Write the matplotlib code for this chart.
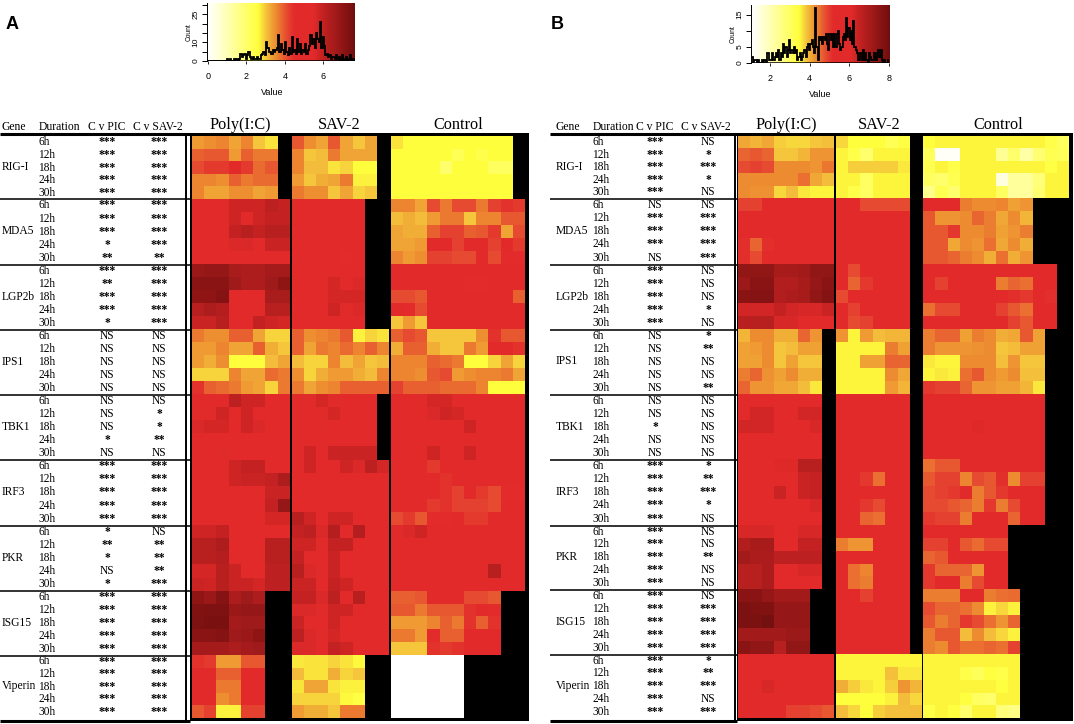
import numpy as np
import matplotlib
matplotlib.use("Agg")
import matplotlib.pyplot as plt
from matplotlib.colors import LinearSegmentedColormap, Normalize
from matplotlib.patches import Rectangle

genes = ["RIG-I", "MDA5", "LGP2b", "IPS1", "TBK1", "IRF3", "PKR", "ISG15", "Viperin"]
durations = ["6h", "12h", "18h", "24h", "30h"]

A_pic = ["***","***","***","***","***", "***","***","***","*","**", "***","**","***","***","*",
         "NS","NS","NS","NS","NS", "NS","NS","NS","*","NS", "***","***","***","***","***",
         "*","**","*","NS","*", "***","***","***","***","***", "***","***","***","***","***"]
A_sav = ["***","***","***","***","***", "***","***","***","***","**", "***","***","***","***","***",
         "NS","NS","NS","NS","NS", "NS","*","*","**","NS", "***","***","***","***","***",
         "NS","**","**","**","***", "***","***","***","***","***", "***","***","***","***","***"]
B_pic = ["***","***","***","***","***", "NS","***","***","***","NS", "***","***","***","***","***",
         "NS","NS","NS","NS","NS", "NS","NS","*","NS","NS", "***","***","***","***","***",
         "***","***","***","***","***", "***","***","***","***","***", "***","***","***","***","***"]
B_sav = ["NS","*","***","*","NS", "NS","***","***","***","***", "NS","NS","NS","*","NS",
         "*","**","NS","NS","**", "NS","NS","NS","NS","NS", "*","**","***","*","NS",
         "NS","NS","**","NS","NS", "NS","***","***","***","***", "*","**","***","NS","***"]

A_poly = [
 [3.4,3.5,3.6,3.3,3.6,3.0,2.8],[3.9,4.0,4.0,3.4,3.9,3.7,3.7],[4.1,4.3,4.3,4.6,4.3,3.8,4.0],[3.6,3.6,3.5,3.9,3.7,3.8,3.8],[3.6,3.3,3.3,3.5,3.5,3.3,3.4],
 [5,5,5,5.8,5.8,5.8,6.1,6.0],[5,5.3,5,5.8,5.4,5.8,6,6],[5,5,5,6,6.2,6,6.2,6.2],[5,5,5,5.6,5.6,5.2,5.9,5.9],[5,5,5,5,5,5,5,5],
 [6.8,6.9,6.9,6.5,6.4,6.4,6.6,6.6],[7.1,7.1,7.1,6.7,6.4,6.4,6.7,7.0],[7.0,7.0,7.2,5,5,5,6.5,6.5],[6.2,6.4,6.3,5,5,5,6.2,6.2],[5.9,5.9,6.2,5,5,6.0,5.8,5.7],
 [3.7,3.5,3.5,3.9,3.9,3.3,2.9,2.9],[3.4,3.4,3.6,3.3,3.3,3.9,3.2,3.0],[3.4,3.2,3.5,2.6,2.6,2.6,3.1,3.3],[2.9,2.9,2.9,3.6,3.3,3.3,3.8,3.7],[4.4,3.9,3.8,3.7,3.4,3.3,2.9,3.7],
 [5,5.2,5.4,6.1,5.8,5.8,5,5],[5.5,5.5,5.8,5.2,5.8,5.4,5,5],[5.6,5.7,5.7,5,5.8,5.6,5,5],[5,5,5.2,5,5,5.4,5,5],[5.4,5.4,5.5,5,5,5,5.2,5.2],
 [5,5,5,5.8,6,6,5.3,5.3],[5,5,5,5.8,5.9,5.9,6,6.4],[5,5.3,5.3,5,5,5,5.9,5.9],[5,5,5,5.5,5,5,6,6.9],[5,5,5,5.3,5.3,5.3,5.7,5.7],
 [5.8,5.8,6,5,5,5,5,5],[6.2,6.2,6.4,5,5,5,6.2,6.2],[6.2,6.2,6.3,5,5,5,6.2,6.2],[5.7,5.7,6.2,5.9,5,5,6.1,6.1],[5.9,5.8,6.2,5.9,5.9,5.7,6.1,6.1],
 [7.0,6.8,7.2,6.4,6.7,6.4],[7.3,7.4,7.4,6.8,6.9,6.9],[7.4,7.5,7.5,6.6,6.7,6.7],[7.1,7.1,7.2,6.7,6.8,7.0],[6.6,6.6,6.6,6.4,6.6,6.7],
 [4.4,4.3,3.4,3.4,4.0,4.0],[5,5,3.9,3.9,5,5],[5,5,3.7,3.7,5,5],[5,5,3.5,3.7,5,5],[4.0,4.2,2.7,2.7,4.2,4.2],
]
A_virus = [
 [4.0,3.5,3.3,4.0,3.3,3.0,3.3],[3.6,3.0,3.1,3.7,3.3,3.3,3.3],[3.6,3.1,3.1,2.8,2.9,2.6,2.6],[3.4,3.0,3.2,3.3,3.7,2.7,2.7],[3.7,3.5,3.5,3.0,3.3,2.9,3.0],
 [5,5,5,5,5,5],[5,5,5,5,5,5],[5,4.7,5,5,5,5],[5,4.7,5,5,5,5],[5,5,5,5,4.5,5],
 [5,5,5,5,5,5],[5,5,5,5.7,5,5.6],[5,5,5,5.7,5.7,5.7],[5,5,5,5.8,5.5,5.6],[5,5,5,5,5,5],
 [3.9,3.5,3.6,3.7,4.0,2.7,2.9,2.8],[3.9,3.3,3.7,3.6,3.8,3.6,3.9,3.6],[3.1,2.9,2.9,3.6,3.1,3.3,3.0,3.1],[3.5,2.9,3.2,3.4,3.4,3.2,3.1,3.6],[3.7,3.3,3.5,3.6,3.9,3.9,3.9,3.9],
 [5.5,5.5,5.7,5.5,5,5,5],[5.5,5.3,5.5,5.7,5,5,5],[5,5,5.5,5,5,5,5],[5,5,5,5,5,5,5],[5.3,5.8,5,5.9,5.9,5.9,5.9],
 [5.3,5.8,5.4,5,5.8,5.6,6.1,5.7],[5,5,5,5,5,5,5,5],[5,5,5,5,5,5,5,5],[5.4,5,5,5,5.2,5,5,5],[6.2,5.8,5.2,5.8,5.8,5,5,5],
 [6,6.1,5.6,6.3,5.2,6.3,5.2,5],[5.8,5.8,5.5,6.0,6.0,5,5,5],[6,5.5,5.2,5.9,5,5,5,5],[6.2,5.6,5.5,5.9,5.3,5,5,5],[5.9,5.9,5.2,6.0,5.8,5,5,5],
 [6,6,5.6,6.1,5.2,6.2,5.2,5],[5.6,5.6,5.5,5.8,5.8,5,5,5],[5.9,5.5,5.2,5.8,5,5,5,5],[6.1,5.6,5.5,5.7,5.4,5.1,5,5],[5.6,5.6,5.2,6,5.8,5,5,5],
 [2.75,2.8,2.8,2.9,2.8,2.65],[3.1,2.8,2.8,3.2,2.9,3.0],[2.8,3.3,3.3,2.8,2.7,2.7],[2.9,2.9,2.9,2.9,2.65,2.5],[3.4,3.2,3.2,3.0,3.7,3.7],
]
A_ctrl = [
 [2.8,2.6,2.6,2.6,2.6,2.6,2.6,2.6,2.6,2.6],[2.6,2.6,2.6,2.6,2.6,2.3,2.6,2.4,2.6,2.6],[2.6,2.6,2.6,2.6,2.0,2.6,2.6,2.6,2.15,2.15],[2.6,2.6,2.6,2.6,2.6,2.6,2.6,2.6,2.6,2.6],[2.6,2.6,2.6,2.6,2.6,2.6,2.6,2.6,2.6,2.6],
 [3.6,3.6,3.3,4.1,3.7,4.1,4.1,3.7,4.2,4.4,4.3],[3.1,3.2,3.1,3.4,3.7,3.7,3.0,3.6,3.6,4.0,4.0],[3.3,3.2,3.2,3.9,4.2,4.2,3.9,4.0,4.3,3.3,4.1],[3.3,3.3,3.4,4.6,4.6,4.2,4.6,4.6,4.2,4.6,4.3],[3.6,3.4,3.5,4.2,4.2,4.1,4.1,4.6,4.1,4.5,4.5],
 [5,5,5,5,5,5,4.8,4.7,4.8,5,5],[5,5,5,5,5,5,4.5,4.5,4.6,5,5],[4.1,4.1,4.0,5,5,5,5,5,5,5,3.9],[4.8,4.5,4.1,5,4.7,5,5,5,5,5,5],[3.0,3.4,3.0,5,5,5,5,5,5,5,5],
 [3.9,4.1,4.0,3.0,3.0,3.0,3.0,3.5,4.4,4.0,4.0],[3.2,3.9,3.9,3.2,3.0,3.0,3.7,3.4,4.7,4.7,4.4],[3.6,3.6,3.6,3.9,3.8,3.7,2.6,2.6,2.9,3.3,2.9],[3.6,3.6,3.5,4.0,4.1,3.4,3.5,3.6,3.6,3.7,3.3],[4.2,3.9,3.9,3.9,3.8,3.8,3.8,3.6,2.6,2.6,2.6],
 [5.3,5.3,5.5,5.7,5.7,5.4,5,5,5,5,5],[5,5,5,5.6,5.8,5.7,5.5,5,5.3,5,5],[5,5,5,5.4,5.4,5.3,5.8,5.3,5.3,5,5],[5,5,5,5,5,5,5,5,5,5,5],[5,5,5,5.8,5.4,5.4,5.8,5.4,5.4,5.2,5.3],
 [5,5,5,4.3,5,4.7,5,5,5,5,5],[5,5,5,4.6,4.4,4.6,5,5,5,5,5],[5,4.6,5,4.6,4.4,4.2,4.8,4.3,4.1,4.5,4.5],[5,5,5,4.3,4.4,4.2,4.2,4.2,4.1,5,5],[4.1,4.3,4.0,4.5,4.5,5,4.3,4.3,4.7,5,5],
 [5.5,5.6,5.8,5,5,5.5,5,5,5,5,5],[5,5,5,5,5,5,5,5,5,5,5],[5,5,5,5,5,5,5,5,5,5,5],[5,5,5,5,5,5,5,5,6.2,5,5],[5,5,5,5,5,5.4,5,5,5,5,5],
 [3.9,3.9,4.0,5,4.7,4.7,4.1,4.1,4.0],[4.0,4.0,3.7,4.0,4.0,4.0,4.4,5,4.5],[3.4,3.4,3.4,3.6,3.9,3.7,4.4,3.9,4.4],[3.7,3.7,3.4,4.5,3.9,3.9,5,5,5],[3.0,3.0,3.0,4.4,4.3,4.4,5,5,5],
 [0,0,0,0,0,0],[0,0,0,0,0,0],[0,0,0,0,0,0],[0,0,0,0,0,0],[0,0,0,0,0,0],
]
B_poly = [
 [4.05,3.95,4.05,3.75,3.7,3.7,3.8,3.85],[4.6,4.7,4.6,3.8,3.8,3.95,4.2,4.2],[4.8,4.9,4.8,4.3,4.3,4.3,4.2,4.45],[4.3,4.3,4.3,4.3,4.3,4.5,4.05,3.9],[4.3,4.25,4.25,3.7,3.9,3.6,3.5,3.5],
 [4.9,4.9,5.6,5.6,5.6,5.6,5.6,5.6],[5.6,5.6,5.6,5.6,5.6,5.6,5.6,5.6],[5.6,5.6,5.6,5.6,5.6,5.6,5.6,5.6],[5.1,4.6,5.1,5.6,5.6,5.6,5.6,5.6],[5.1,4.8,5.6,5.6,5.6,5.6,5.6,5.6],
 [7.4,7.4,7.4,7.0,7.0,7.1,7.4,7.4],[7.2,7.5,7.5,6.8,6.8,7.0,7.3,7.5],[7.5,7.6,7.6,6.8,6.9,7.0,7.4,7.6],[6.3,6.3,6.3,6.5,6.3,6.2,6.2,6.4],[6.7,6.7,6.7,6.2,6.2,5.8,5.8,5.9],
 [3.95,4.3,4.3,4.0,4.0,4.6,4.2],[4.1,4.15,4.3,3.8,3.9,4.1,4.1],[4.1,4.1,4.3,3.8,4.1,3.8,3.8],[4.4,4.6,4.25,4.1,4.3,4.0,4.0],[4.6,4.2,4.2,4.05,4.05,3.9,3.6],
 [5.9,5.9,5.9,5.9,5.9,5.9,5.9],[5.7,6.3,6.3,5.6,5.6,6.3,6.3],[6.3,6.3,6.3,5.6,5.6,5.6,6.2],[5.6,5.6,5.6,5.6,5.6,5.6,5.6],[5.6,5.6,5.6,5.6,5.6,5.6,5.6],
 [5.6,5.6,5.6,6.1,6.1,6.7,6.7],[5.6,5.6,5.6,5.9,5.9,6.4,6.5],[5.6,5.6,5.6,6.4,5.9,6.4,6.5],[5.6,5.6,5.6,5.9,5.8,5.7,6.2],[5.6,5.6,5.6,5.6,5.6,5.6,5.6],
 [6.2,6.2,6.2,5.6,5.6,6.2,6.2],[6.8,7.0,7.0,5.6,5.6,6.5,6.5],[7.1,6.9,6.9,6.6,6.6,6.6,6.6],[6.7,6.7,6.9,5.6,5.6,6.2,6.2],[6.7,6.7,6.9,5.6,5.6,5.6,5.6],
 [7.5,7.5,7.3,7.1,7.1,7.1],[7.8,7.7,7.7,7.3,7.3,7.3],[7.8,7.8,7.9,7.3,7.3,7.3],[7.1,7.1,7.1,7.1,7.2,7.2],[7.5,7.4,7.4,6.7,7.4,7.4],
 [5.6,5.6,5.6,5.4,5.6,5.6,5.6,5.6],[5.6,5.6,5.6,5.6,5.6,5.6,5.6,5.6],[5.6,5.6,6.2,5.6,5.6,5.6,5.6,5.6],[5.6,5.2,5.6,5.6,5.6,5.6,5.6,5.6],[5.6,5.6,5.6,5.6,4.9,4.9,4.8,4.7],
]
B_virus = [
 [3.7,3.45,3.45,3.45,3.15,3.35],[3.5,3.3,2.9,3.5,3.5,3.5],[3.5,3.75,3.75,3.75,3.75,3.6],[3.5,3.5,3.0,3.5,3.5,3.5],[3.5,3.3,3.0,3.5,3.5,3.5],
 [5.6,5.6,4.8,4.8,4.8,4.8],[5.6,5.6,5.6,5.6,5.6,5.6],[5.6,5.6,5.6,5.6,5.6,5.6],[5.6,5.6,5.6,5.3,5.6,5.6],[5.6,5.6,5.6,5.6,5.6,5.6],
 [5.6,4.8,5.6,5.6,5.6,5.6],[5.6,4.6,5.0,5.6,5.6,5.6],[4.8,5.6,5.6,5.6,5.6,5.6],[5.6,4.9,5.6,5.6,5.6,5.6],[5.6,4.8,4.9,5.6,5.6,5.6],
 [4.2,3.5,4.15,3.9,3.95,3.95],[3.5,3.5,3.5,3.5,4.4,4.1],[3.5,3.5,4.1,4.1,4.6,4.6],[3.5,3.5,3.5,3.5,4.3,4.05],[3.5,3.5,3.5,3.5,4.15,3.95],
 [5.6,5.6,5.6,5.6,5.6,5.6],[5.6,5.6,5.6,5.6,5.6,5.6],[5.6,5.6,5.6,5.6,5.6,5.6],[5.6,5.6,5.6,5.6,5.6,5.6],[5.6,5.6,5.6,5.6,5.6,5.6],
 [5.6,5.6,5.6,5.6,5.6,5.6],[5.6,5.6,5.0,4.5,5.6,5.6],[5.6,5.7,5.6,5.6,5.6,5.6],[5.6,5.6,5.0,4.8,5.6,5.6],[5.6,5.6,4.6,4.5,5.6,5.6],
 [5.6,5.6,5.6,5.5,5.4,5.6],[4.4,4.2,4.2,5.6,5.6,5.6],[5.6,5.6,5.6,5.6,5.6,5.6],[5.6,4.5,4.35,5.6,5.6,5.6],[5.6,4.5,4.4,5.6,5.6,5.6],
 [5.6,5.5,4.9,5.6,5.6,5.6],[5.6,5.6,5.6,5.6,5.6,5.6],[5.6,5.6,5.6,5.6,5.6,5.6],[5.6,5.6,5.6,5.6,5.6,5.6],[5.6,5.6,5.6,5.6,5.6,5.6],
 [3.5,3.5,3.5,3.5,3.5,3.5,3.5],[3.5,3.5,3.5,3.5,3.85,3.6,3.6],[4.0,3.75,3.6,3.5,3.75,4.2,3.95],[3.45,3.45,3.45,3.45,3.55,3.9,3.7],[3.9,3.7,3.45,3.75,3.85,3.85,3.9],
]
B_ctrl = [
 [3.45,3.5,3.5,3.5,3.5,3.5,3.5,3.5,3.5,3.5,3.3,3.05],[3.1,1.2,1.2,3.5,3.5,3.5,2.4,2.9,2.2,2.8,3.2,3.1],[3.2,3.5,3.3,3.5,3.5,3.5,3.5,3.5,3.5,3.5,3.35,3.5],[3.0,2.9,3.2,3.5,3.5,3.5,1.5,2.3,2.3,2.7,3.5,3.5],[2.5,3.2,2.9,3.5,3.5,3.5,3.0,2.3,2.3,2.8,3.5,3.5],
 [5.6,5.6,5.6,4.4,4.3,4.3,4.35,4.1,4.2],[4.7,4.2,4.2,4.3,4.6,4.4,4.05,4.3,3.95],[4.7,4.7,5.0,4.3,4.3,4.4,4.1,4.2,4.4],[4.7,4.7,4.05,4.3,4.2,4.5,4.05,4.3,4.0],[4.7,4.7,4.6,4.4,4.3,4.0,4.5,4.0,4.2],
 [5.6,5.6,5.6,5.6,5.6,5.6,5.6,5.6,5.6,5.6,5.6],[5.6,4.9,5.6,5.6,5.6,5.6,4.4,4.6,4.5,5.6,5.6],[5.6,5.6,5.6,5.6,5.6,5.6,5.6,5.1,5.0,5.6,5.1],[4.5,4.8,4.8,5.6,5.6,5.6,4.9,4.7,4.5,5.6,5.6],[5.6,5.6,5.6,5.6,5.6,5.6,5.2,4.9,4.7,5.6,5.6],
 [4.4,4.6,4.6,4.1,4.4,4.3,4.0,4.05,4.7,4.1],[4.4,4.2,4.2,4.2,4.25,4.3,3.8,3.9,4.1,4.1],[3.6,3.5,3.5,4.3,4.3,4.3,3.85,4.2,3.8,3.8],[3.5,3.6,3.55,4.5,4.7,4.3,4.15,4.3,3.85,3.85],[5.0,4.9,4.9,4.6,4.2,4.2,4.1,4.1,3.95,3.6],
 [5.7,5.7,5.7,5.8,5.7,5.7,5.7,5.7,5.6,5.6],[5.6,5.6,5.6,6.0,5.6,5.6,5.6,5.6,5.6,5.6],[5.6,5.6,5.6,5.6,6.1,5.6,5.6,5.6,5.6,5.6],[5.6,5.6,5.6,5.6,5.6,5.6,5.6,5.6,5.6,5.6],[5.6,5.6,5.9,5.6,5.6,6.0,5.6,5.6,5.6,5.6],
 [4.5,4.7,4.7,5.6,5.6,5.6,5.6,5.6,5.6,5.6],[4.7,4.9,4.9,4.35,4.8,4.7,5.1,4.3,4.9,4.9],[4.8,4.9,5.0,5.6,4.4,4.7,5.0,5.6,5.6,5.6],[4.8,4.8,4.7,4.6,4.4,5.0,4.4,4.8,5.6,5.6],[5.0,4.9,4.9,4.4,5.6,5.6,5.6,4.6,5.6,5.6],
 [5.6,5.6,5.6,5.6,5.6,5.6,5.6],[4.9,4.9,5.6,4.7,4.55,4.8,4.8],[4.6,4.7,5.6,5.6,5.6,5.6,5.6],[5.0,4.6,4.6,4.6,4.2,5.6,5.6],[5.0,5.6,5.6,4.4,4.8,5.6,5.6],
 [4.4,4.4,4.4,5.6,5.6,4.4,4.5,4.55],[4.8,4.6,4.6,4.5,4.3,3.55,3.7,3.55],[4.7,4.4,4.6,5.0,4.8,4.5,4.2,4.6],[4.4,4.7,4.7,3.9,4.3,3.9,3.7,3.55],[4.4,4.3,4.7,4.5,4.5,4.6,4.5,4.9],
 [3.5,3.5,3.5,3.5,3.5,3.5,3.5,3.5],[3.5,3.5,3.5,3.3,3.1,3.4,3.3,3.5],[3.5,3.5,3.5,3.5,3.5,3.5,3.4,3.5],[3.5,3.5,3.5,3.4,3.0,2.9,3.5,3.5],[3.3,3.5,3.4,2.9,3.5,3.5,2.7,2.6],
]
A_hist = [0,0,0,0,0,0,0,0,0,0,0,0,0,0, 1,0,1,0,0,1,0,1,0,1, 4,2,3,4,1,3,5,2,1,2, 1,1,2,1,1,3,4,5,3,10,
          7,5,5,4,6,5,6,7,14,5, 9,6,4,10,5,3,7,4,13,5, 6,4,12,5,9,4,6,5,9,4, 6,8,14,9,12,7,15,12,10,21,
          7,13,8,3,4,2,3,1,2,2, 1,3,1,2,0,3,1,0,2,0,1,3,1,0,1]
B_hist = [2,0,1,1,0,1,0,0,1,0, 1,1,0,3,1,1,1,3,1,2, 3,2,4,1,3,2,6,3,5,2, 4,7,3,4,3,5,3,4,1,2, 3,1,2,3,4,2,5,6,4,6,
          7,5,3,17,5,1,8,7,8,6, 8,7,9,6,4,9,7,9,5,9, 5,9,10,6,4,5,8,9,7,14, 8,11,7,10,6,13,5,4,3,1,
          1,3,1,4,1,3,1,0,3,2, 1,1,3,2,1,3,4,2,4,1, 0,1,0,0,1]

W, H = 1074, 724
SERIF = "Liberation Serif"
SANS = "Liberation Sans"

cmap = LinearSegmentedColormap.from_list("heat", [
    (0.00, "#FFFFFF"), (0.34, "#FFFF3C"), (0.39, "#F5C83C"), (0.43, "#F0A535"),
    (0.47, "#EC8530"), (0.51, "#E86030"), (0.55, "#E54030"), (0.59, "#E22A2A"),
    (0.72, "#E22A2A"), (0.76, "#CE2424"), (0.82, "#B51E1E"), (0.875, "#A01A1A"),
    (0.93, "#8A1414"), (0.98, "#7A1010"), (1.00, "#6B0F0F")])

fig = plt.figure(figsize=(W / 100, H / 100), dpi=100, facecolor="white")
px = fig.add_axes([0, 0, 1, 1])
px.set_xlim(0, W)
px.set_ylim(H, 0)
px.axis("off")


def pad(rows, n):
    m = np.full((len(rows), n), np.nan)
    for i, r in enumerate(rows):
        m[i, :len(r)] = r
    return m


def row_edges(tops):
    out = []
    for k in range(len(tops) - 1):
        out.extend(np.linspace(tops[k], tops[k + 1], 6)[:-1])
    out.append(tops[-1])
    return np.array(out)


def panel(rows3, ncols, xr, tops, norm, frame, cols_txt, heads, sigs, line_x, vline_x, title_x):
    ye = row_edges(tops)
    px.add_patch(Rectangle((frame[0], frame[1]), frame[2] - frame[0], frame[3] - frame[1],
                           fc="black", ec="none", zorder=1))
    for rows, n, (x0, x1) in zip(rows3, ncols, xr):
        xe = np.linspace(x0, x1, n + 1)
        m = np.ma.masked_invalid(pad(rows, n))
        px.pcolormesh(xe, ye, m, cmap=cmap, norm=norm, zorder=2, shading="flat", linewidth=0)
    # table
    for hx, ht in heads:
        px.text(hx, tops[0] - 6, ht, family=SERIF, fontsize=8.4, ha="left", va="baseline", zorder=5)
    for name, tx in zip(["Poly(I:C)", "SAV-2", "Control"], title_x):
        px.text(tx, tops[0] - 7, name, family=SERIF, fontsize=11.7, ha="center", va="baseline", zorder=5)
    px.plot(line_x, [tops[0] - 2] * 2, color="black", lw=2.2, solid_capstyle="butt", zorder=4)
    for t in tops[1:-1]:
        px.plot(line_x, [t + 0.5] * 2, color="#222222", lw=1.3, solid_capstyle="butt", zorder=4)
    px.plot(line_x, [tops[-1] + 3] * 2, color="black", lw=2.2, solid_capstyle="butt", zorder=4)
    px.plot([vline_x] * 2, [tops[0] - 2, tops[-1] + 3], color="black", lw=1.4, zorder=4)
    for g, name in enumerate(genes):
        t0, t1 = tops[g], tops[g + 1]
        px.text(cols_txt[0], (t0 + t1) / 2 + 3, name, family=SERIF, fontsize=8.3, ha="left", va="baseline", zorder=5)
        for r in range(5):
            y = t0 + (t1 - t0) * (r + 0.5) / 5 + 3.2
            px.text(cols_txt[1], y, durations[r], family=SERIF, fontsize=8.3, ha="left", va="baseline", zorder=3)
            for c, sig in enumerate(sigs):
                s = sig[g * 5 + r]
                stars = s != "NS"
                px.text(cols_txt[2 + c], y, s, family=SERIF, fontsize=8.3,
                        fontweight="bold" if stars else "normal",
                        ha="center", va="baseline", zorder=3)


def key(rect, xlim, ylim, counts, norm, xticks, yticks, yticklabels, label_x):
    left, top, right, bottom = rect
    ax = fig.add_axes([left / W, 1 - bottom / H, (right - left) / W, (bottom - top) / H])
    xs = np.linspace(xlim[0], xlim[1], 256)
    ax.imshow(xs[None, :], extent=[xlim[0], xlim[1], ylim[0], ylim[1]], aspect="auto",
              cmap=cmap, norm=norm, origin="lower", interpolation="bilinear")
    edges = np.linspace(xlim[0], xlim[1], len(counts) + 1)
    ax.stairs(counts, edges, color="black", lw=1.3, baseline=None)
    ax.plot(xlim, [0, 0], color="black", lw=1.1)
    ax.set_xlim(xlim)
    ax.set_ylim(ylim)
    for s in ("top", "right"):
        ax.spines[s].set_visible(False)
    ax.spines["bottom"].set_visible(False)
    ax.spines["left"].set_position(("outward", 1))
    ax.spines["left"].set_linewidth(0.7)
    ax.set_xticks(xticks)
    ax.set_xticklabels([str(v) for v in xticks], family=SANS, fontsize=6.5)
    ax.set_yticks(yticks)
    ax.set_yticklabels(yticklabels, family=SANS, fontsize=6, rotation=90, va="center")
    ax.tick_params(axis="x", length=2, width=0.6, pad=6)
    ax.tick_params(axis="y", length=3.5, width=0.7, pad=1.5)
    ax.set_xlabel("Value", family=SANS, fontsize=6.5)
    ax.xaxis.set_label_coords(label_x, -0.47)
    ax.set_ylabel("Count", family=SANS, fontsize=4.8, labelpad=0)
    return ax


tops_A = [136, 198.7, 264.3, 329.3, 394.3, 459.5, 525, 590.7, 655, 718]
tops_B = [136, 198.3, 264, 329, 394, 459.3, 525, 589.3, 654, 718.3]
norm_A = Normalize(0, 7.65)
norm_B = Normalize(1.1, 8)

panel([A_poly, A_virus, A_ctrl], [8, 8, 11], [(191.7, 290), (291.7, 389), (390.7, 525)], tops_A, norm_A,
      (190, 133, 528.5, 720.5), (2, 38.5, 107, 159),
      [(2, "Gene"), (38.5, "Duration"), (88, "C v PIC"), (133, "C v SAV-2")],
      [A_pic, A_sav], (0, 190), 186, (240, 339, 458))
panel([B_poly, B_virus, B_ctrl], [8, 7, 12], [(738.3, 834.3), (835.7, 922.3), (923.3, 1069)], tops_B, norm_B,
      (737, 133, 1072.5, 720.5), (555.5, 592.5, 655.5, 708),
      [(555.5, "Gene"), (592.5, "Duration"), (636.5, "C v PIC"), (681, "C v SAV-2")],
      [B_pic, B_sav], (550, 737), 735, (786, 879, 998))

key((208, 3, 355, 61), (0, 7.65), (0, 31), A_hist, norm_A, [0, 2, 4, 6], [0, 5, 10, 15, 20, 25, 30],
    ["0", "", "10", "", "", "25", ""], 0.44)
key((752, 5, 889, 63), (1.1, 8), (0, 18), B_hist, norm_B, [2, 4, 6, 8], [0, 5, 10, 15], ["0", "5", "", "15"], 0.5)

px.text(6, 29, "A", family=SANS, fontsize=13, fontweight="bold", ha="left", va="baseline", zorder=5)
px.text(551, 29, "B", family=SANS, fontsize=13, fontweight="bold", ha="left", va="baseline", zorder=5)

fig.savefig("out.png", dpi=100)
